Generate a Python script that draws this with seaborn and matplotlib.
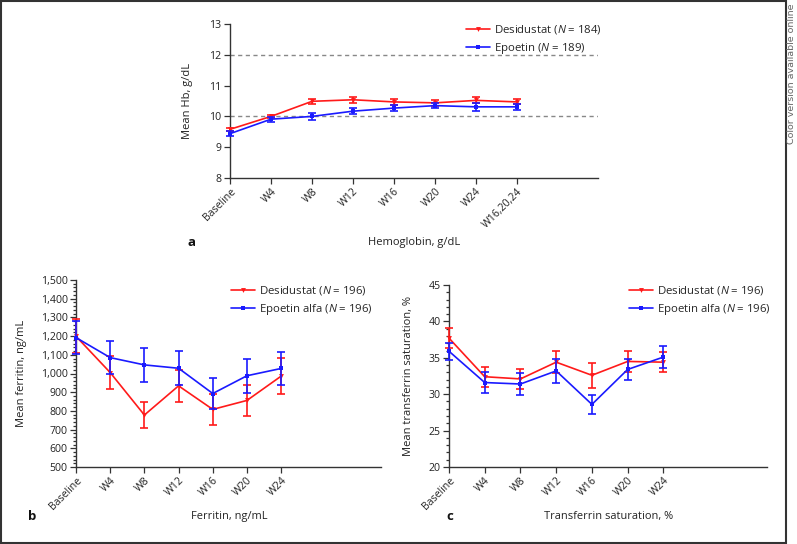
import numpy as np
import pandas as pd
import matplotlib
matplotlib.use("Agg")
import matplotlib.pyplot as plt
import seaborn as sns
from matplotlib.patches import Rectangle
from matplotlib.ticker import MultipleLocator, FuncFormatter

# ---------------- data ----------------
hb_labels = ["Baseline", "W4", "W8", "W12", "W16", "W20", "W24", "W16,20,24"]
hb_des = [9.58, 10.00, 10.49, 10.54, 10.47, 10.44, 10.52, 10.47]
hb_des_err = [0.05, 0.06, 0.09, 0.10, 0.09, 0.10, 0.10, 0.08]
hb_epo = [9.44, 9.91, 10.00, 10.17, 10.27, 10.35, 10.31, 10.31]
hb_epo_err = [0.07, 0.08, 0.12, 0.09, 0.10, 0.09, 0.13, 0.10]

wk_labels = ["Baseline", "W4", "W8", "W12", "W16", "W20", "W24"]
fer_des = [1199, 1005, 778, 934, 808, 856, 986]
fer_des_err = [92, 87, 70, 87, 82, 85, 95]
fer_epo = [1192, 1085, 1046, 1028, 893, 988, 1027]
fer_epo_err = [89, 87, 92, 90, 82, 90, 90]

tsat_des = [37.7, 32.4, 32.1, 34.4, 32.6, 34.5, 34.4]
tsat_des_err = [1.4, 1.4, 1.4, 1.5, 1.7, 1.5, 1.4]
tsat_epo = [35.9, 31.6, 31.4, 33.2, 28.6, 33.4, 35.1]
tsat_epo_err = [1.2, 1.4, 1.5, 1.6, 1.3, 1.4, 1.5]

lab_a = ["Desidustat ($\\mathit{N}$ = 184)", "Epoetin ($\\mathit{N}$ = 189)"]
lab_bc = ["Desidustat ($\\mathit{N}$ = 196)", "Epoetin alfa ($\\mathit{N}$ = 196)"]

# ---------------- style ----------------
sns.set_theme(style="ticks")
plt.rcParams["font.family"] = ["Open Sans", "DejaVu Sans"]
plt.rcParams["mathtext.fontset"] = "custom"
plt.rcParams["mathtext.rm"] = "Open Sans"
plt.rcParams["mathtext.it"] = "Open Sans:italic"
FS = 7.6
TXT = "#222222"
AX = "#333333"
RED = "#ff1a1a"
BLUE = "#1a1aff"

W, H = 797, 544
fig = plt.figure(figsize=(W / 100, H / 100), dpi=100)


def px_axes(l, r, t, b):
    return fig.add_axes([l / W, 1 - b / H, (r - l) / W, (b - t) / H])


def draw(ax, labels, des, des_err, epo, epo_err, names):
    x = np.arange(len(labels))
    for vals, errs, col, mk, ms, name in [
        (des, des_err, RED, "v", 3.5, names[0]),
        (epo, epo_err, BLUE, "s", 2.8, names[1]),
    ]:
        df = pd.DataFrame({"x": x, "y": vals})
        sns.lineplot(data=df, x="x", y="y", ax=ax, color=col, marker=mk,
                     markersize=ms, markeredgewidth=0, linewidth=1.2,
                     label=name, zorder=3, clip_on=False)
        ax.errorbar(x, vals, yerr=errs, fmt="none", ecolor=col,
                    elinewidth=1.2, capsize=2.8, capthick=1.2, zorder=3,
                    clip_on=False)
    ax.set_xticks(x)
    ax.set_xticklabels(labels, rotation=45, ha="right", rotation_mode="anchor")
    for s in ["top", "right"]:
        ax.spines[s].set_visible(False)
    for s in ["left", "bottom"]:
        ax.spines[s].set_color(AX)
        ax.spines[s].set_linewidth(1.0)
    ax.tick_params(axis="both", which="both", colors=AX, labelcolor=TXT,
                   labelsize=FS, direction="out", width=0.9)
    ax.tick_params(axis="both", which="major", length=4, pad=2)
    ax.tick_params(axis="y", which="minor", length=2.2)
    ax.set_xlabel("")
    ax.set_ylabel("")
    ax.legend_.remove()


LEG = dict(loc="upper left", frameon=False, fontsize=8.2, handlelength=2.1,
           handletextpad=0.4, labelspacing=0.45, borderaxespad=0, borderpad=0)

# ---- panel a ----
axa = px_axes(230, 598, 24, 178)
axa.axhline(12, color="#888888", lw=1.0, ls=(0, (3, 2.5)), zorder=1)
axa.axhline(10, color="#888888", lw=1.0, ls=(0, (3, 2.5)), zorder=1)
draw(axa, hb_labels, hb_des, hb_des_err, hb_epo, hb_epo_err, lab_a)
axa.set_xlim(0, 8.97)
axa.set_ylim(8, 13)
axa.set_yticks([8, 9, 10, 11, 12, 13])
axa.set_ylabel("Mean Hb, g/dL", fontsize=8.0, color=TXT)
axa.yaxis.set_label_coords(-0.1, 0.5)
h, l = axa.get_legend_handles_labels()
fig.legend(h, l, bbox_to_anchor=(466 / W, 1 - 23 / H), **LEG)

# ---- panel b ----
axb = px_axes(76, 381, 280, 467)
draw(axb, wk_labels, fer_des, fer_des_err, fer_epo, fer_epo_err, lab_bc)
axb.set_xlim(0, 8.92)
axb.set_ylim(500, 1500)
axb.yaxis.set_major_locator(MultipleLocator(100))
axb.yaxis.set_minor_locator(MultipleLocator(20))
axb.yaxis.set_major_formatter(FuncFormatter(lambda v, p: f"{int(v):,}"))
axb.set_ylabel("Mean ferritin, ng/mL", fontsize=8.0, color=TXT)
axb.yaxis.set_label_coords(-0.16, 0.5)
h, l = axb.get_legend_handles_labels()
fig.legend(h, l, bbox_to_anchor=(231 / W, 1 - 284 / H), **LEG)

# ---- panel c ----
axc = px_axes(449, 767, 285, 467)
draw(axc, wk_labels, tsat_des, tsat_des_err, tsat_epo, tsat_epo_err, lab_bc)
axc.set_xlim(0, 8.9)
axc.set_ylim(20, 45)
axc.yaxis.set_major_locator(MultipleLocator(5))
axc.yaxis.set_minor_locator(MultipleLocator(1))
axc.set_ylabel("Mean transferrin saturation, %", fontsize=8.0, color=TXT)
axc.yaxis.set_label_coords(-0.11, 0.5)
h, l = axc.get_legend_handles_labels()
fig.legend(h, l, bbox_to_anchor=(629 / W, 1 - 284 / H), **LEG)

# ---- x labels and panel letters ----
fig.text(414 / W, 1 - 242 / H, "Hemoglobin, g/dL", ha="center", va="center",
         fontsize=8.0, color=TXT)
fig.text(229 / W, 1 - 517 / H, "Ferritin, ng/mL", ha="center", va="center",
         fontsize=7.9, color=TXT)
fig.text(609 / W, 1 - 517 / H, "Transferrin saturation, %", ha="center",
         va="center", fontsize=7.9, color=TXT)
for t, xx, yy in [("a", 192, 242), ("b", 32, 517), ("c", 450, 517)]:
    fig.text(xx / W, 1 - yy / H, t, ha="center", va="center",
             fontsize=9.5, fontweight="bold", color="#111111")

# ---- frame and side note ----
fig.patches.append(Rectangle((1 / W, 1 / H), 785 / W, 542 / H,
                             transform=fig.transFigure, fill=False,
                             edgecolor="#333333", lw=1.5))
fig.text(791 / W, 1 - 3 / H, "Color version available online", rotation=90,
         ha="center", va="top", fontsize=6.8, color="#666666",
         family="DejaVu Sans")

fig.savefig("out.png", dpi=100)
